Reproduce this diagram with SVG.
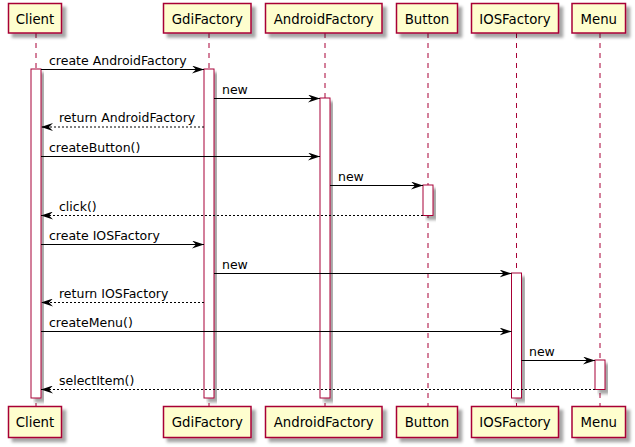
<svg xmlns="http://www.w3.org/2000/svg" width="635" height="447" viewBox="0 0 635 447">
<defs>
<filter id="sh" x="-20%" y="-20%" width="150%" height="150%">
<feGaussianBlur in="SourceAlpha" stdDeviation="1.8" result="b"/>
<feOffset in="b" dx="4" dy="4" result="o"/>
<feFlood flood-color="#000" flood-opacity="0.35"/>
<feComposite in2="o" operator="in" result="s"/>
<feMerge><feMergeNode in="s"/><feMergeNode in="SourceGraphic"/></feMerge>
</filter>
<marker id="ah" viewBox="0 0 12 8" refX="12" refY="4" markerWidth="12" markerHeight="8" markerUnits="userSpaceOnUse" orient="auto">
<polygon points="0,0 12,4 0,8 4,4" fill="#000"/>
</marker>
</defs>
<style>
.box{fill:#FEFECE;stroke:#A80036;stroke-width:1.5;filter:url(#sh)}
.life{stroke:#A80036;stroke-width:1;stroke-dasharray:5,5;fill:none}
.act{fill:#FFFFFF;stroke:#A80036;stroke-width:1;filter:url(#sh)}
.pt{font-family:"DejaVu Sans",sans-serif;font-size:13.3px;fill:#000;text-anchor:middle}
.mt{font-family:"DejaVu Sans",sans-serif;font-size:12.5px;fill:#000}
.msg{stroke:#000;stroke-width:1;fill:none;marker-end:url(#ah)}
.ret{stroke:#000;stroke-width:1;fill:none;stroke-dasharray:2,2;marker-end:url(#ah)}
</style>
<rect width="635" height="447" fill="#FFFFFF"/>
<g id="Client">
<line class="life" x1="36" y1="33" x2="36" y2="406"/>
<rect class="act" x="31" y="69" width="10" height="329"/>
<rect class="box" x="8.5" y="3.5" width="53" height="29.5"/>
<text class="pt" x="35" y="23.5">Client</text>
<rect class="box" x="8.5" y="406.5" width="53" height="31"/>
<text class="pt" x="35" y="427">Client</text>
</g>
<g id="GdiFactory">
<line class="life" x1="209" y1="33" x2="209" y2="406"/>
<rect class="act" x="204" y="69" width="10" height="329"/>
<rect class="box" x="163.5" y="3.5" width="87.5" height="29.5"/>
<text class="pt" x="207.3" y="23.5">GdiFactory</text>
<rect class="box" x="163.5" y="406.5" width="87.5" height="31"/>
<text class="pt" x="207.3" y="427">GdiFactory</text>
</g>
<g id="AndroidFactory">
<line class="life" x1="325" y1="33" x2="325" y2="406"/>
<rect class="act" x="320" y="98" width="10" height="300"/>
<rect class="box" x="265.5" y="3.5" width="116.5" height="29.5"/>
<text class="pt" x="323.7" y="23.5">AndroidFactory</text>
<rect class="box" x="265.5" y="406.5" width="116.5" height="31"/>
<text class="pt" x="323.7" y="427">AndroidFactory</text>
</g>
<g id="Button">
<line class="life" x1="428" y1="33" x2="428" y2="406"/>
<rect class="act" x="423" y="185" width="10" height="30.5"/>
<rect class="box" x="396.5" y="3.5" width="61" height="29.5"/>
<text class="pt" x="427" y="23.5">Button</text>
<rect class="box" x="396.5" y="406.5" width="61" height="31"/>
<text class="pt" x="427" y="427">Button</text>
</g>
<g id="IOSFactory">
<line class="life" x1="516.5" y1="33" x2="516.5" y2="406"/>
<rect class="act" x="511.5" y="273" width="10" height="125"/>
<rect class="box" x="471.5" y="3.5" width="87" height="29.5"/>
<text class="pt" x="515" y="23.5">IOSFactory</text>
<rect class="box" x="471.5" y="406.5" width="87" height="31"/>
<text class="pt" x="515" y="427">IOSFactory</text>
</g>
<g id="Menu">
<line class="life" x1="600" y1="33" x2="600" y2="406"/>
<rect class="act" x="595" y="360" width="10" height="29.5"/>
<rect class="box" x="572" y="3.5" width="53.5" height="29.5"/>
<text class="pt" x="598.8" y="23.5">Menu</text>
<rect class="box" x="572" y="406.5" width="53.5" height="31"/>
<text class="pt" x="598.8" y="427">Menu</text>
</g>
<g id="connectors">
<line class="msg" x1="41" y1="69.5" x2="204" y2="69.5"/>
<text class="mt" x="49" y="64.5">create AndroidFactory</text>
<line class="msg" x1="214" y1="98.5" x2="320" y2="98.5"/>
<text class="mt" x="222" y="93.5">new</text>
<line class="ret" x1="204" y1="127" x2="41" y2="127"/>
<text class="mt" x="59" y="122">return AndroidFactory</text>
<line class="msg" x1="41" y1="156.5" x2="320" y2="156.5"/>
<text class="mt" x="49" y="151.5">createButton()</text>
<line class="msg" x1="330" y1="185.5" x2="423" y2="185.5"/>
<text class="mt" x="338" y="180.5">new</text>
<line class="ret" x1="423" y1="215.5" x2="41" y2="215.5"/>
<text class="mt" x="59" y="210.5">click()</text>
<line class="msg" x1="41" y1="244.5" x2="204" y2="244.5"/>
<text class="mt" x="49" y="239.5">create IOSFactory</text>
<line class="msg" x1="214" y1="273.5" x2="511.5" y2="273.5"/>
<text class="mt" x="222" y="268.5">new</text>
<line class="ret" x1="204" y1="302.5" x2="41" y2="302.5"/>
<text class="mt" x="59" y="297.5">return IOSFactory</text>
<line class="msg" x1="41" y1="331.5" x2="511.5" y2="331.5"/>
<text class="mt" x="49" y="326.5">createMenu()</text>
<line class="msg" x1="521.5" y1="360.5" x2="595" y2="360.5"/>
<text class="mt" x="529" y="355.5">new</text>
<line class="ret" x1="595" y1="389.5" x2="41" y2="389.5"/>
<text class="mt" x="59" y="384.5">selectItem()</text>
</g>
</svg>
